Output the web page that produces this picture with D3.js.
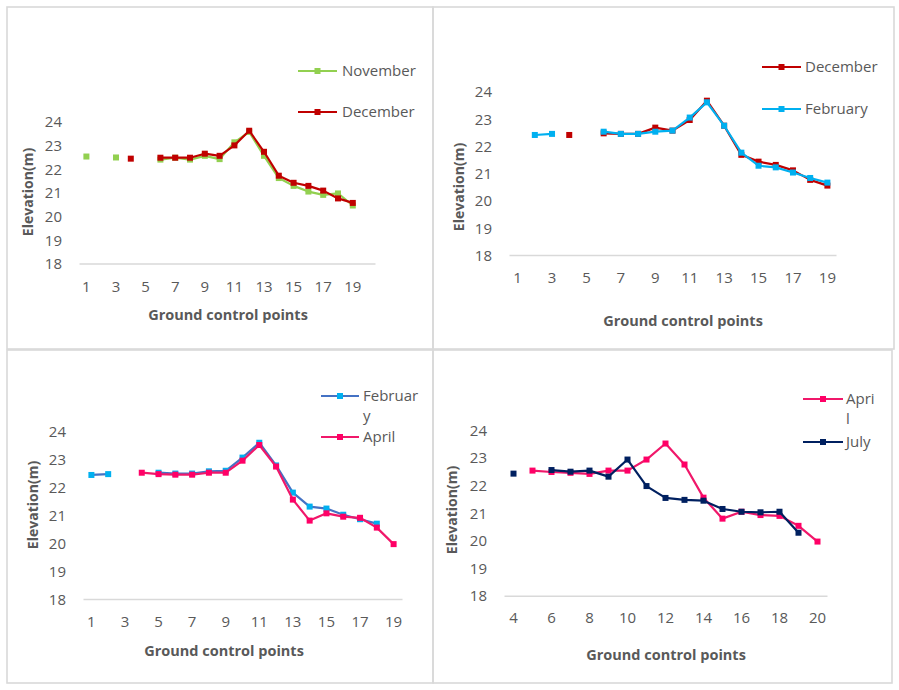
<!DOCTYPE html>
<html><head><meta charset="utf-8">
<script src="https://cdn.jsdelivr.net/npm/d3@7"></script>
<style>
body{margin:0;background:#fff;}
svg text{font-family:"Open Sans","Noto Sans",sans-serif;}
</style></head>
<body><svg id="c" width="899" height="690"></svg>
<script>
// ---------- DATA ----------
const yTicks = [18, 19, 20, 21, 22, 23, 24];

// Panel 1 : November vs December
const cats1 = [1,2,3,4,5,6,7,8,9,10,11,12,13,14,15,16,17,18,19,20];
const xLabels1 = [1,3,5,7,9,11,13,15,17,19];
const november1 = [22.52,null,22.48,null,null,22.39,22.47,22.39,22.55,22.41,23.12,23.56,22.55,21.61,21.28,21.04,20.90,20.96,20.45,null];
const december1 = [null,null,null,22.43,null,22.47,22.47,22.47,22.64,22.55,22.99,23.61,22.72,21.71,21.41,21.28,21.08,20.75,20.56,null];

// Panel 2 : December vs February
const cats2 = [1,2,3,4,5,6,7,8,9,10,11,12,13,14,15,16,17,18,19];
const xLabels2 = [1,3,5,7,9,11,13,15,17,19];
const december2 = [null,null,null,22.41,null,22.47,22.45,22.45,22.68,22.57,22.96,23.67,22.75,21.68,21.43,21.31,21.11,20.76,20.55];
const february2 = [null,22.41,22.45,null,null,22.53,22.45,22.45,22.53,22.57,23.05,23.61,22.75,21.76,21.28,21.22,21.03,20.83,20.66];

// Panel 3 : February vs April
const cats3 = [1,2,3,4,5,6,7,8,9,10,11,12,13,14,15,16,17,18,19];
const xLabels3 = [1,3,5,7,9,11,13,15,17,19];
const february3 = [22.43,22.46,null,null,22.51,22.48,22.48,22.56,22.58,23.05,23.58,22.77,21.80,21.30,21.23,21.01,20.85,20.69,null];
const april3 = [null,null,null,22.51,22.46,22.44,22.44,22.51,22.51,22.94,23.50,22.73,21.55,20.80,21.06,20.94,20.90,20.55,19.96];

// Panel 4 : April vs July
const cats4 = [4,5,6,7,8,9,10,11,12,13,14,15,16,17,18,19,20];
const xLabels4 = [4,6,8,10,12,14,16,18,20];
const april4 = [null,22.53,22.48,22.45,22.41,22.53,22.53,22.93,23.51,22.75,21.55,20.79,21.04,20.92,20.89,20.53,19.96];
const july4 = [22.42,null,22.55,22.49,22.53,22.31,22.93,21.97,21.54,21.47,21.44,21.14,21.04,21.02,21.04,20.28,null];

const xTitle = "Ground control points";
const yTitle = "Elevation(m)";

// ---------- LAYOUT ----------
const panels = [
  {frame:[7,7,433,349], px:[79,375], py:[263.5,121.5], cats:cats1, xl:xLabels1, yLabX:62, xLabY:287,
   yT:[28,192], xT:[228,315], leg:{x0:298,x1:337,tx:342,ys:[71,112]},
   series:[{name:["November"], data:november1, line:"#92d050", mark:"#92d050"},
           {name:["December"], data:december1, line:"#c00000", mark:"#c00000"}]},
  {frame:[433,7,894,349], px:[509,836], py:[255,91.7], cats:cats2, xl:xLabels2, yLabX:492, xLabY:278,
   yT:[459,187], xT:[683,321], leg:{x0:762,x1:801,tx:805,ys:[67,109]},
   series:[{name:["December"], data:december2, line:"#c00000", mark:"#c00000"},
           {name:["February"], data:february2, line:"#00b0f0", mark:"#00b0f0"}]},
  {frame:[7,350,433,683], px:[83,402], py:[599,431], cats:cats3, xl:xLabels3, yLabX:66, xLabY:622,
   yT:[33,505], xT:[224,651], leg:{x0:321,x1:359,tx:363,ys:[396,437]},
   series:[{name:["Februar","y"], data:february3, line:"#4472c4", mark:"#00b0f0"},
           {name:["April"], data:april3, line:"#f0186a", mark:"#ff0066"}]},
  {frame:[433,350,892,683], px:[504,827], py:[595.7,430], cats:cats4, xl:xLabels4, yLabX:487, xLabY:618,
   yT:[452,510], xT:[666,655], leg:{x0:803,x1:843,tx:846,ys:[399,442]},
   series:[{name:["Apri","l"], data:april4, line:"#f0186a", mark:"#ff0066"},
           {name:["July"], data:july4, line:"#002060", mark:"#002060"}]}
];

const svg = d3.select("#c");
const textCol = "#595959";
const ms = 6;

panels.forEach(p => {
  const g = svg.append("g");
  const [fx0, fy0, fx1, fy1] = p.frame;
  g.append("rect").attr("x", fx0).attr("y", fy0).attr("width", fx1 - fx0).attr("height", fy1 - fy0)
    .attr("fill", "none").attr("stroke", "#d9d9d9").attr("stroke-width", 1.6);

  const x = d3.scaleBand().domain(p.cats).range(p.px).padding(0);
  const y = d3.scaleLinear().domain([18, 24]).range(p.py);
  const cx = c => x(c) + x.bandwidth() / 2;

  // y tick labels
  const ya = d3.axisLeft(y).tickValues(yTicks).tickSize(0).tickPadding(0).tickFormat(d3.format("d"));
  const yg = g.append("g").attr("transform", `translate(${p.yLabX},0)`).call(ya);
  yg.select(".domain").remove();
  yg.selectAll("text").attr("fill", textCol).style("font-size", "15px").attr("dy", "0.35em");

  // x axis
  const xa = d3.axisBottom(x).tickValues(p.xl).tickSize(0).tickPadding(0);
  const xg = g.append("g").attr("transform", `translate(0,${p.py[0]})`).call(xa);
  xg.select(".domain").attr("stroke", "#d9d9d9").attr("stroke-width", 1.6);
  xg.selectAll("text").attr("fill", textCol).style("font-size", "15px")
    .attr("y", p.xLabY - p.py[0]).attr("dy", "0.35em");

  // titles
  g.append("text").attr("x", p.xT[0]).attr("y", p.xT[1]).attr("dy", "0.35em").attr("text-anchor", "middle")
    .attr("fill", textCol).style("font-size", "14.5px").style("font-weight", "bold").text(xTitle);
  g.append("text").attr("transform", `translate(${p.yT[0]},${p.yT[1]}) rotate(-90)`).attr("dy", "0.35em")
    .attr("text-anchor", "middle").attr("fill", textCol).style("font-size", "14px").style("font-weight", "bold").text(yTitle);

  // series
  p.series.forEach(s => {
    const pts = p.cats.map((c, i) => ({c, v: s.data[i]}));
    const line = d3.line().defined(d => d.v != null).x(d => cx(d.c)).y(d => y(d.v));
    g.append("path").datum(pts).attr("d", line).attr("fill", "none")
      .attr("stroke", s.line).attr("stroke-width", 2.2).attr("stroke-linejoin", "round");
    g.selectAll(null).data(pts.filter(d => d.v != null)).enter().append("rect")
      .attr("x", d => cx(d.c) - ms / 2).attr("y", d => y(d.v) - ms / 2)
      .attr("width", ms).attr("height", ms).attr("fill", s.mark);
  });

  // legend
  p.series.forEach((s, i) => {
    const ly = p.leg.ys[i];
    g.append("line").attr("x1", p.leg.x0).attr("x2", p.leg.x1).attr("y1", ly).attr("y2", ly)
      .attr("stroke", s.line).attr("stroke-width", 2.2);
    g.append("rect").attr("x", (p.leg.x0 + p.leg.x1) / 2 - ms / 2).attr("y", ly - ms / 2)
      .attr("width", ms).attr("height", ms).attr("fill", s.mark);
    const t = g.append("text").attr("x", p.leg.tx).attr("y", ly)
      .attr("fill", textCol).style("font-size", "15px");
    s.name.forEach((n, k) => {
      t.append("tspan").attr("x", p.leg.tx).attr("dy", k === 0 ? "0.35em" : "20px").text(n);
    });
  });
});
</script></body></html>
